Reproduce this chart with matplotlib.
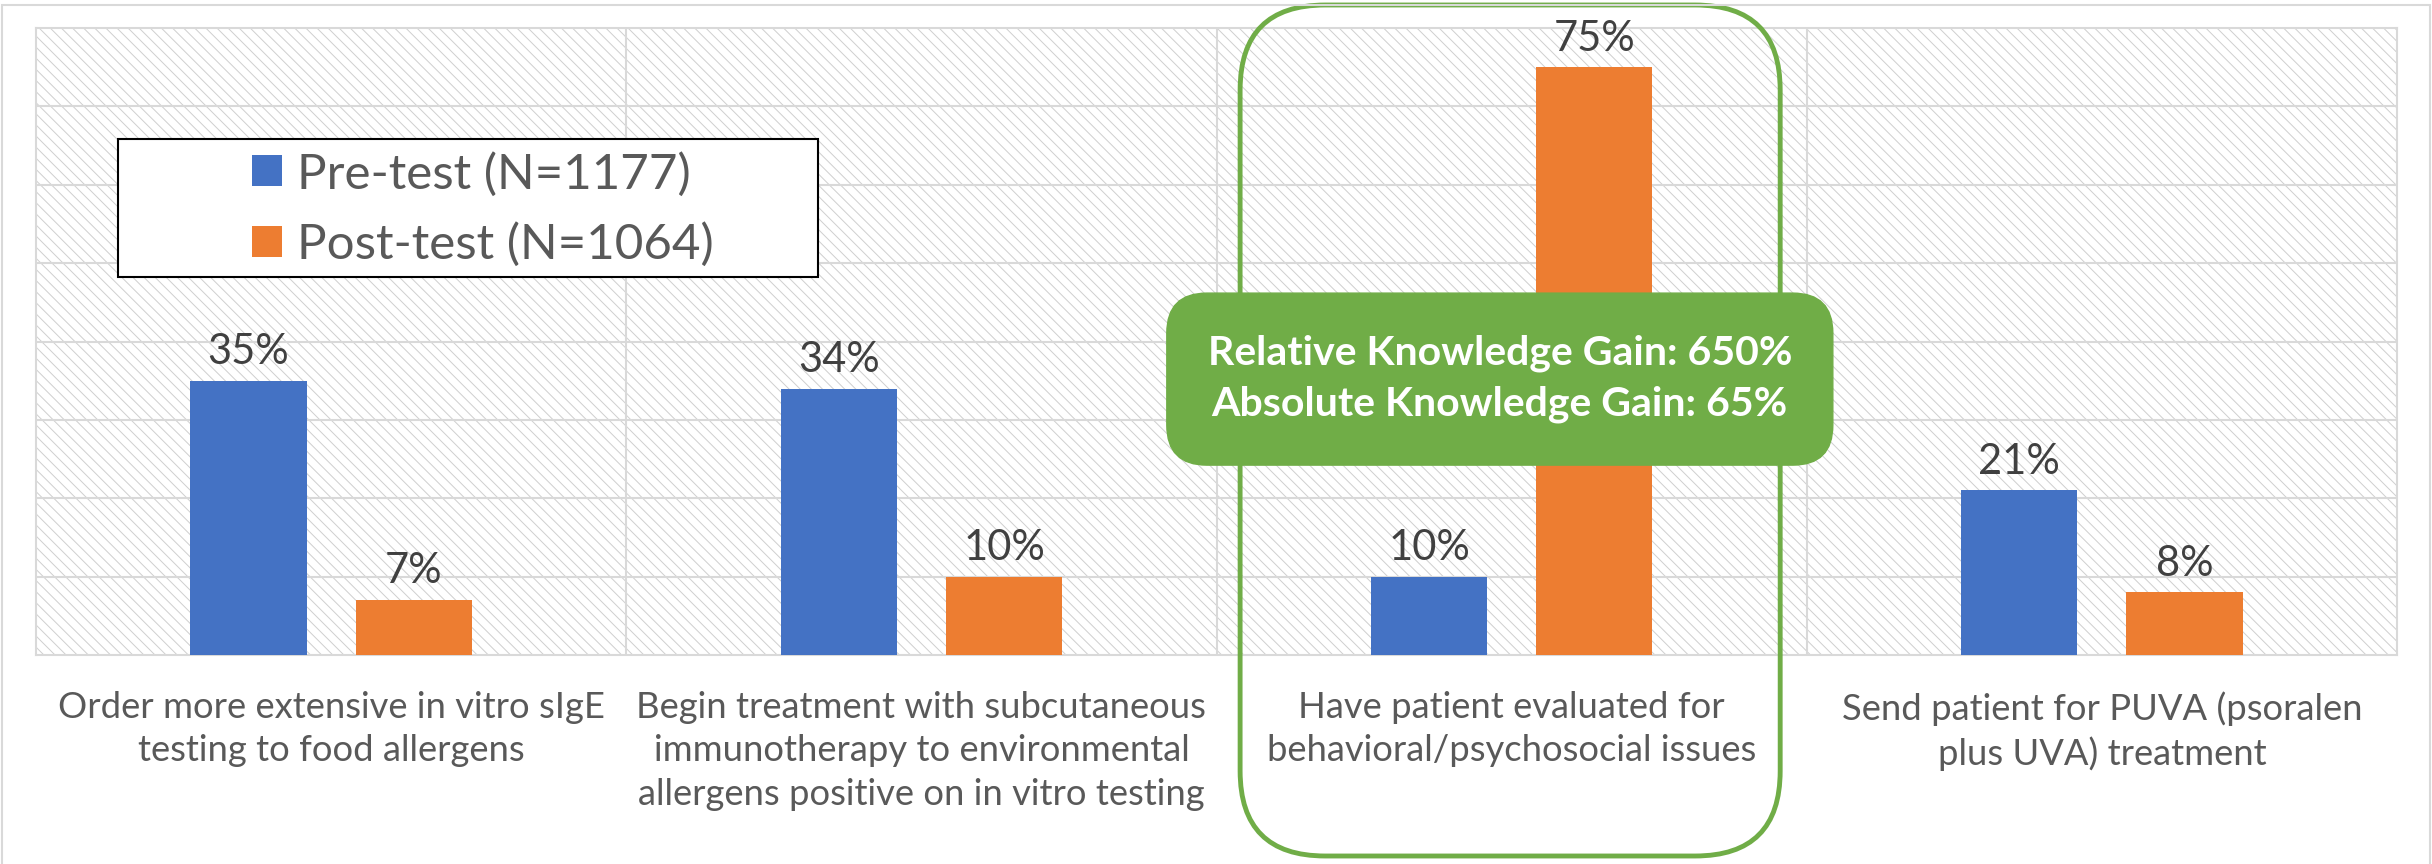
import matplotlib
matplotlib.use("Agg")
import matplotlib.pyplot as plt
from matplotlib.patches import Rectangle, FancyBboxPatch
import numpy as np

plt.rcParams['font.family'] = ['Lato', 'DejaVu Sans']
plt.rcParams['hatch.linewidth'] = 0.7

# data
categories = [
    "Order more extensive in vitro sIgE\ntesting to food allergens",
    "Begin treatment with subcutaneous\nimmunotherapy to environmental\nallergens positive on in vitro testing",
    "Have patient evaluated for\nbehavioral/psychosocial issues",
    "Send patient for PUVA (psoralen\nplus UVA) treatment",
]
pre_test = [35, 34, 10, 21]
post_test = [7, 10, 75, 8]
series_names = ["Pre-test (N=1177)", "Post-test (N=1064)"]
gain_text = "Relative Knowledge Gain: 650%\nAbsolute Knowledge Gain: 65%"
highlight = 2  # index of the highlighted question

BLUE = "#4472C4"
ORANGE = "#ED7D31"
GREEN = "#70AD47"
GRID = "#D9D9D9"
TXT = "#595959"

fig = plt.figure(figsize=(24.32, 8.64), dpi=100)
ax = fig.add_axes([36/2432, 1 - 655/864, 2361/2432, 627/864])

x = np.arange(len(categories))
w = 0.197
off = 0.14

ax.set_xlim(-0.5, len(categories) - 0.5)
ax.set_ylim(0, 80)

# hatched background of the plot area
ax.add_patch(Rectangle((0, 0), 1, 1, transform=ax.transAxes, facecolor="white",
                       edgecolor="#CFCFCF", lw=0, hatch="\\\\\\", zorder=0))

# grid
for yv in np.arange(10, 80, 10):
    ax.axhline(yv, color=GRID, lw=1.5, zorder=1)
for xv in x[:-1] + 0.5:
    ax.axvline(xv, color=GRID, lw=1.5, zorder=1)
for s in ax.spines.values():
    s.set_color(GRID)
    s.set_linewidth(1.5)

b1 = ax.bar(x - off, pre_test, w, color=BLUE, zorder=3, label=series_names[0])
b2 = ax.bar(x + off, post_test, w, color=ORANGE, zorder=3, label=series_names[1])

for bars, vals in [(b1, pre_test), (b2, post_test)]:
    for r, v in zip(bars, vals):
        ax.annotate(f"{v}%", (r.get_x() + r.get_width() / 2, v),
                    xytext=(0, 12), textcoords="offset points",
                    ha="center", va="baseline", fontsize=30, color="#404040", zorder=5)

ax.set_yticks([])
ax.set_xticks(x)
ax.set_xticklabels(categories, fontsize=26.2, color=TXT, linespacing=1.38)
ax.tick_params(axis="x", length=0, pad=26)

# legend with its own wide frame
ax.add_patch(Rectangle((0.0347, 0.6029), 0.2965, 0.2201, transform=ax.transAxes,
                       facecolor="white", edgecolor="black", lw=1.5, zorder=6))
leg = ax.legend(loc="center left", bbox_to_anchor=(0.0915, 0.711), frameon=False,
                fontsize=35.5, borderpad=0, borderaxespad=0, handlelength=0.61,
                handleheight=0.59, handletextpad=0.3, labelspacing=0.52)
leg.set_zorder(7)
for t in leg.get_texts():
    t.set_color(TXT)

to_in = fig.dpi_scale_trans.inverted()

# rounded outline around the highlighted question (in inches)
xl = to_in.transform(ax.transData.transform((highlight - 0.46, 0)))[0]
xr = to_in.transform(ax.transData.transform((highlight + 0.455, 0)))[0]
ax.add_patch(FancyBboxPatch((xl, 0.08), xr - xl, 8.51,
                            boxstyle="round,pad=0,rounding_size=0.85",
                            transform=fig.dpi_scale_trans, facecolor="none",
                            edgecolor=GREEN, lw=3.5, zorder=7.5, clip_on=False))

# knowledge gain box
cx, cy = to_in.transform(ax.transData.transform((highlight - 0.02, 35.2)))
bw, bh = 6.66, 1.72
ax.add_patch(FancyBboxPatch((cx - bw / 2, cy - bh / 2), bw, bh,
                            boxstyle="round,pad=0,rounding_size=0.4",
                            transform=fig.dpi_scale_trans, facecolor=GREEN,
                            edgecolor=GREEN, lw=1, zorder=7.8, clip_on=False))
ax.text(highlight - 0.02, 35.2, gain_text, ha="center", va="center", fontsize=29.5,
        fontweight="bold", color="white", linespacing=1.45, zorder=8)

# outer chart border
fig.patches.append(Rectangle((2/2432, -0.01), 2428/2432, 1 - 5/864 + 0.01,
                             transform=fig.transFigure, facecolor="none",
                             edgecolor=GRID, lw=1.5))

fig.savefig("out.png", dpi=100)
